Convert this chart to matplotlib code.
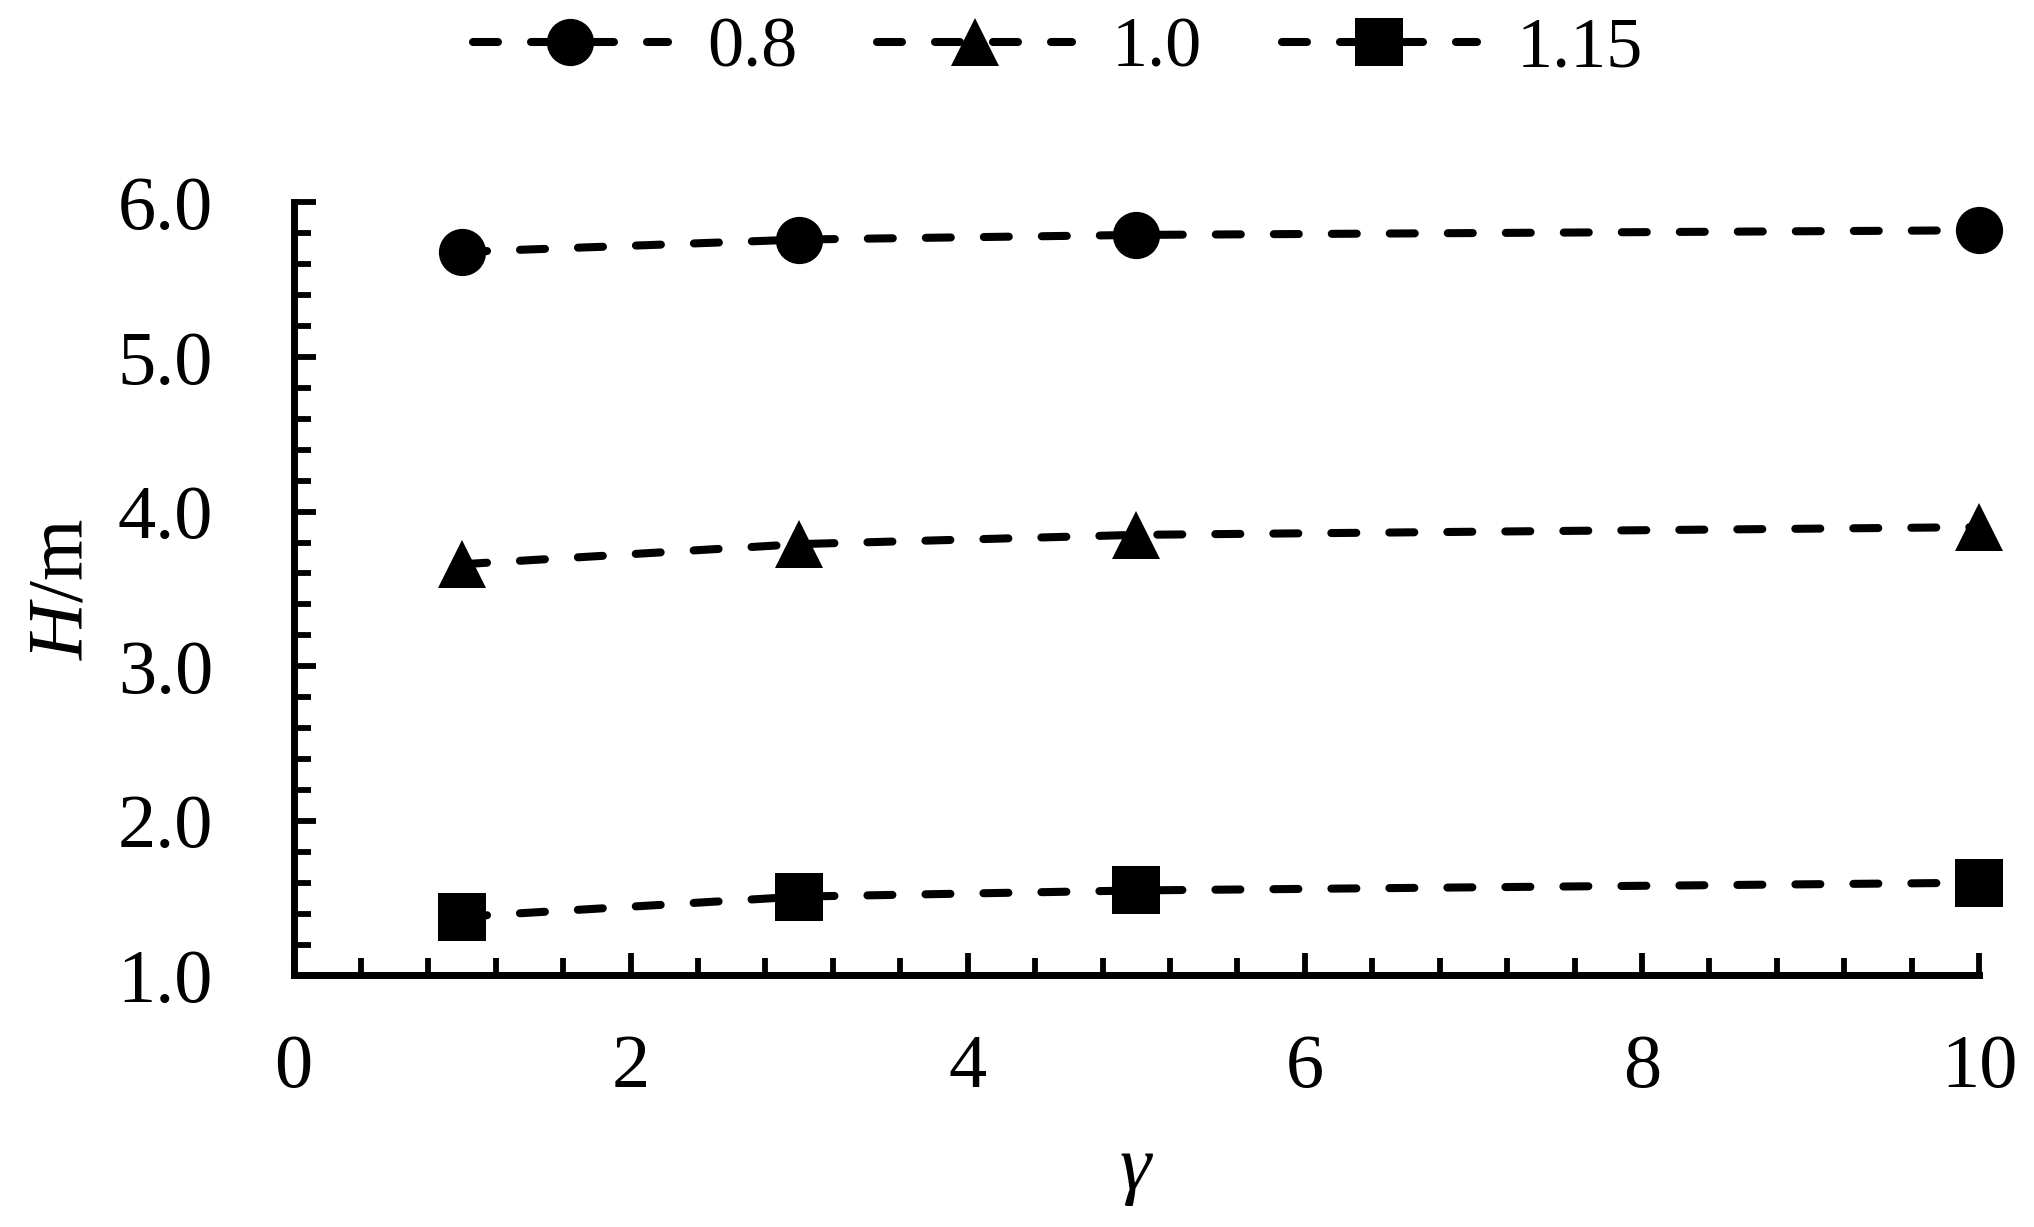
import numpy as np
import matplotlib.pyplot as plt
from matplotlib.ticker import MultipleLocator, FormatStrFormatter

plt.rcParams['font.family'] = ['Liberation Serif', 'DejaVu Serif']
plt.rcParams['mathtext.fontset'] = 'custom'
plt.rcParams['mathtext.it'] = 'Liberation Serif:italic'
plt.rcParams['mathtext.rm'] = 'Liberation Serif'

# data
gamma = [1, 3, 5, 10]
labels = ['0.8', '1.0', '1.15']
h_08 = [5.68, 5.76, 5.79, 5.82]
h_10 = [3.66, 3.79, 3.85, 3.90]
h_115 = [1.38, 1.51, 1.55, 1.60]
markers = ['o', '^', 's']

fig = plt.figure(figsize=(20.34, 12.27), dpi=100)
ax = fig.add_axes([0.1443, 0.2050, 0.8287, 0.6300])

for ys, lab, mk in zip([h_08, h_10, h_115], labels, markers):
    ax.plot(gamma, ys, color='black', linestyle=(0, (3.1, 4.1)), linewidth=5.8,
            dash_capstyle='round', marker=mk, markersize=34, label=lab,
            markeredgewidth=0, clip_on=False)

ax.set_xlim(0, 10)
ax.set_ylim(1.0, 6.0)
ax.xaxis.set_major_locator(MultipleLocator(2))
ax.xaxis.set_minor_locator(MultipleLocator(0.4))
ax.yaxis.set_major_locator(MultipleLocator(1.0))
ax.yaxis.set_minor_locator(MultipleLocator(0.2))
ax.yaxis.set_major_formatter(FormatStrFormatter('%.1f'))

for s in ['top', 'right']:
    ax.spines[s].set_visible(False)
for s in ['left', 'bottom']:
    ax.spines[s].set_linewidth(5)
    ax.spines[s].set_capstyle('projecting')

ax.tick_params(which='major', direction='in', length=16, width=4.2, labelsize=55)
ax.tick_params(which='minor', direction='in', length=12, width=4.2)
ax.tick_params(axis='x', which='major', pad=42)
ax.tick_params(axis='y', which='major', pad=58)

ax.set_xlabel(r'$\mathit{\gamma}$', fontsize=57, labelpad=24)
ax.set_ylabel(r'$\mathit{H}$/m', fontsize=57, labelpad=14)

fig.legend(loc='center', bbox_to_anchor=(0.52, 1 - 49 / 1227), ncol=3, frameon=False,
           fontsize=52, handlelength=2.7, columnspacing=1.1, handletextpad=0.55)

fig.savefig('out.png', dpi=100)
